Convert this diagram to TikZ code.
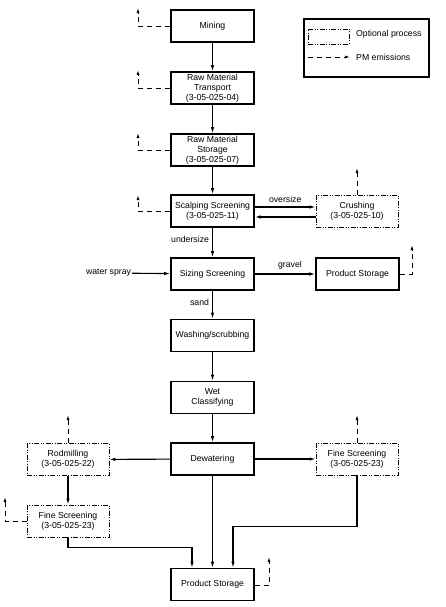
\documentclass[tikz,border=0pt]{standalone}
\usepackage{fontspec}
\setmainfont{Liberation Sans}
\usetikzlibrary{arrows.meta}

\tikzset{
  process/.style={draw, line width=1.6pt, minimum width=83pt, minimum height=32pt, align=center, inner sep=1pt},
  optional/.style={draw, line width=0.8pt, dash pattern=on 5pt off 1.5pt on 1pt off 1.5pt on 1pt off 1.5pt, minimum width=82pt, minimum height=32pt, align=center, inner sep=1pt},
  flow/.style={line width=1.1pt, -{Latex[length=6pt,width=3.5pt]}},
  pm/.style={line width=0.9pt, dash pattern=on 5pt off 4pt, -{Latex[length=5pt,width=3pt]}},
  lbl/.style={inner sep=1pt}
}

\begin{document}
\begin{tikzpicture}[x=1pt, y=-1pt, font=\fontsize{8.7}{9.8}\selectfont]
      \useasboundingbox (0,0) rectangle (446,607);

      % Main process column
      \node[process] (mining) at (212.5,26) {Mining};
      \node[process] (transport) at (212.5,88) {Raw Material\\Transport\\(3-05-025-04)};
      \node[process] (rstorage) at (212.5,150) {Raw Material\\Storage\\(3-05-025-07)};
      \node[process] (scalping) at (212.5,211) {Scalping Screening\\(3-05-025-11)};
      \node[optional] (crushing) at (357,211) {Crushing\\(3-05-025-10)};
      \node[process] (sizing) at (212.5,274) {Sizing Screening};
      \node[process] (pstorage) at (357.5,274) {Product Storage};
      \node[process] (washing) at (212.5,335.5) {Washing/scrubbing};
      \node[process] (wetclass) at (212.5,397.5) {Wet\\Classifying};
      \node[process] (dewater) at (212.5,459) {Dewatering};

      % Optional processes after dewatering
      \node[optional] (rodmill) at (68,459.5) {Rodmilling\\(3-05-025-22)};
      \node[optional] (finescrR) at (357,459) {Fine Screening\\(3-05-025-23)};
      \node[optional] (finescrL) at (68,521) {Fine Screening\\(3-05-025-23)};
      \node[process] (pstorageB) at (212.5,584.5) {Product Storage};

      % Draw main flow
      \draw[flow] (mining) -- (transport);
      \draw[flow] (transport) -- (rstorage);
      \draw[flow] (rstorage) -- (scalping);
      \draw[flow] (scalping) -- (sizing) node[lbl, pos=0.4, left=2pt] {undersize};
      \draw[flow] (sizing) -- (washing) node[lbl, pos=0.4, left=2pt] {sand};
      \draw[flow] (washing) -- (wetclass);
      \draw[flow] (wetclass) -- (dewater);
      \draw[flow] (dewater) -- (pstorageB);

      % Draw crushing loop
      \draw[flow] ([yshift=4pt]scalping.east) -- ([yshift=4pt]crushing.west) node[lbl, midway, above=3pt] {oversize};
      \draw[flow] ([yshift=-6pt]crushing.west) -- ([yshift=-6pt]scalping.east);

      % Draw gravel and water spray
      \draw[flow] (sizing) -- (pstorage) node[lbl, midway, above=3pt, xshift=5pt] {gravel};
      \node[lbl] (water) at (108.5,273) {water spray};
      \draw[flow] (water) -- (sizing);

      % Draw side branches
      \draw[flow] (dewater) -- (rodmill);
      \draw[flow] (dewater) -- (finescrR);
      \draw[flow] (rodmill) -- (finescrL);
      \draw[flow] (finescrL.south) -- ++(0,10) -| ([xshift=-20.5pt]pstorageB.north);
      \draw[flow] (finescrR.south) -- ++(0,51) -| ([xshift=20.5pt]pstorageB.north);

      % Draw PM emissions
      \foreach \n/\y in {mining/8, transport/70, rstorage/133, scalping/195}{
        \coordinate (e\n) at (138,\y);
        \draw[pm] (\n.west) -| (e\n);
      }
      \coordinate (ecrushing) at (357,168);
      \draw[pm] (crushing.north) -- (ecrushing);
      \coordinate (epstorage) at (412,245);
      \draw[pm] (pstorage.east) -| (epstorage);
      \coordinate (erodmill) at (68,415);
      \draw[pm] (rodmill.north) -- (erodmill);
      \coordinate (efinescrR) at (357,415);
      \draw[pm] (finescrR.north) -- (efinescrR);
      \coordinate (efinescrL) at (5,497);
      \draw[pm] (finescrL.west) -| (efinescrL);
      \coordinate (epstorageB) at (269,557);
      \draw[pm] ([yshift=-1pt]pstorageB.east) -| (epstorageB);

      % Legend
      \node[draw, line width=1.1pt, minimum width=125pt, minimum height=58pt] (legend) at (366.5,48) {};
      \node[optional, minimum width=41pt, minimum height=15pt] (optkey) at (328.5,36.5) {};
      \node[lbl, anchor=west] (opttext) at (355,34) {Optional process};
      \coordinate (pmA) at (308,57);
      \coordinate (pmB) at (350,57);
      \draw[pm] (pmA) -- (pmB);
      \node[lbl, anchor=west] (pmtext) at (355,57) {PM emissions};
    \end{tikzpicture}
\end{document}
